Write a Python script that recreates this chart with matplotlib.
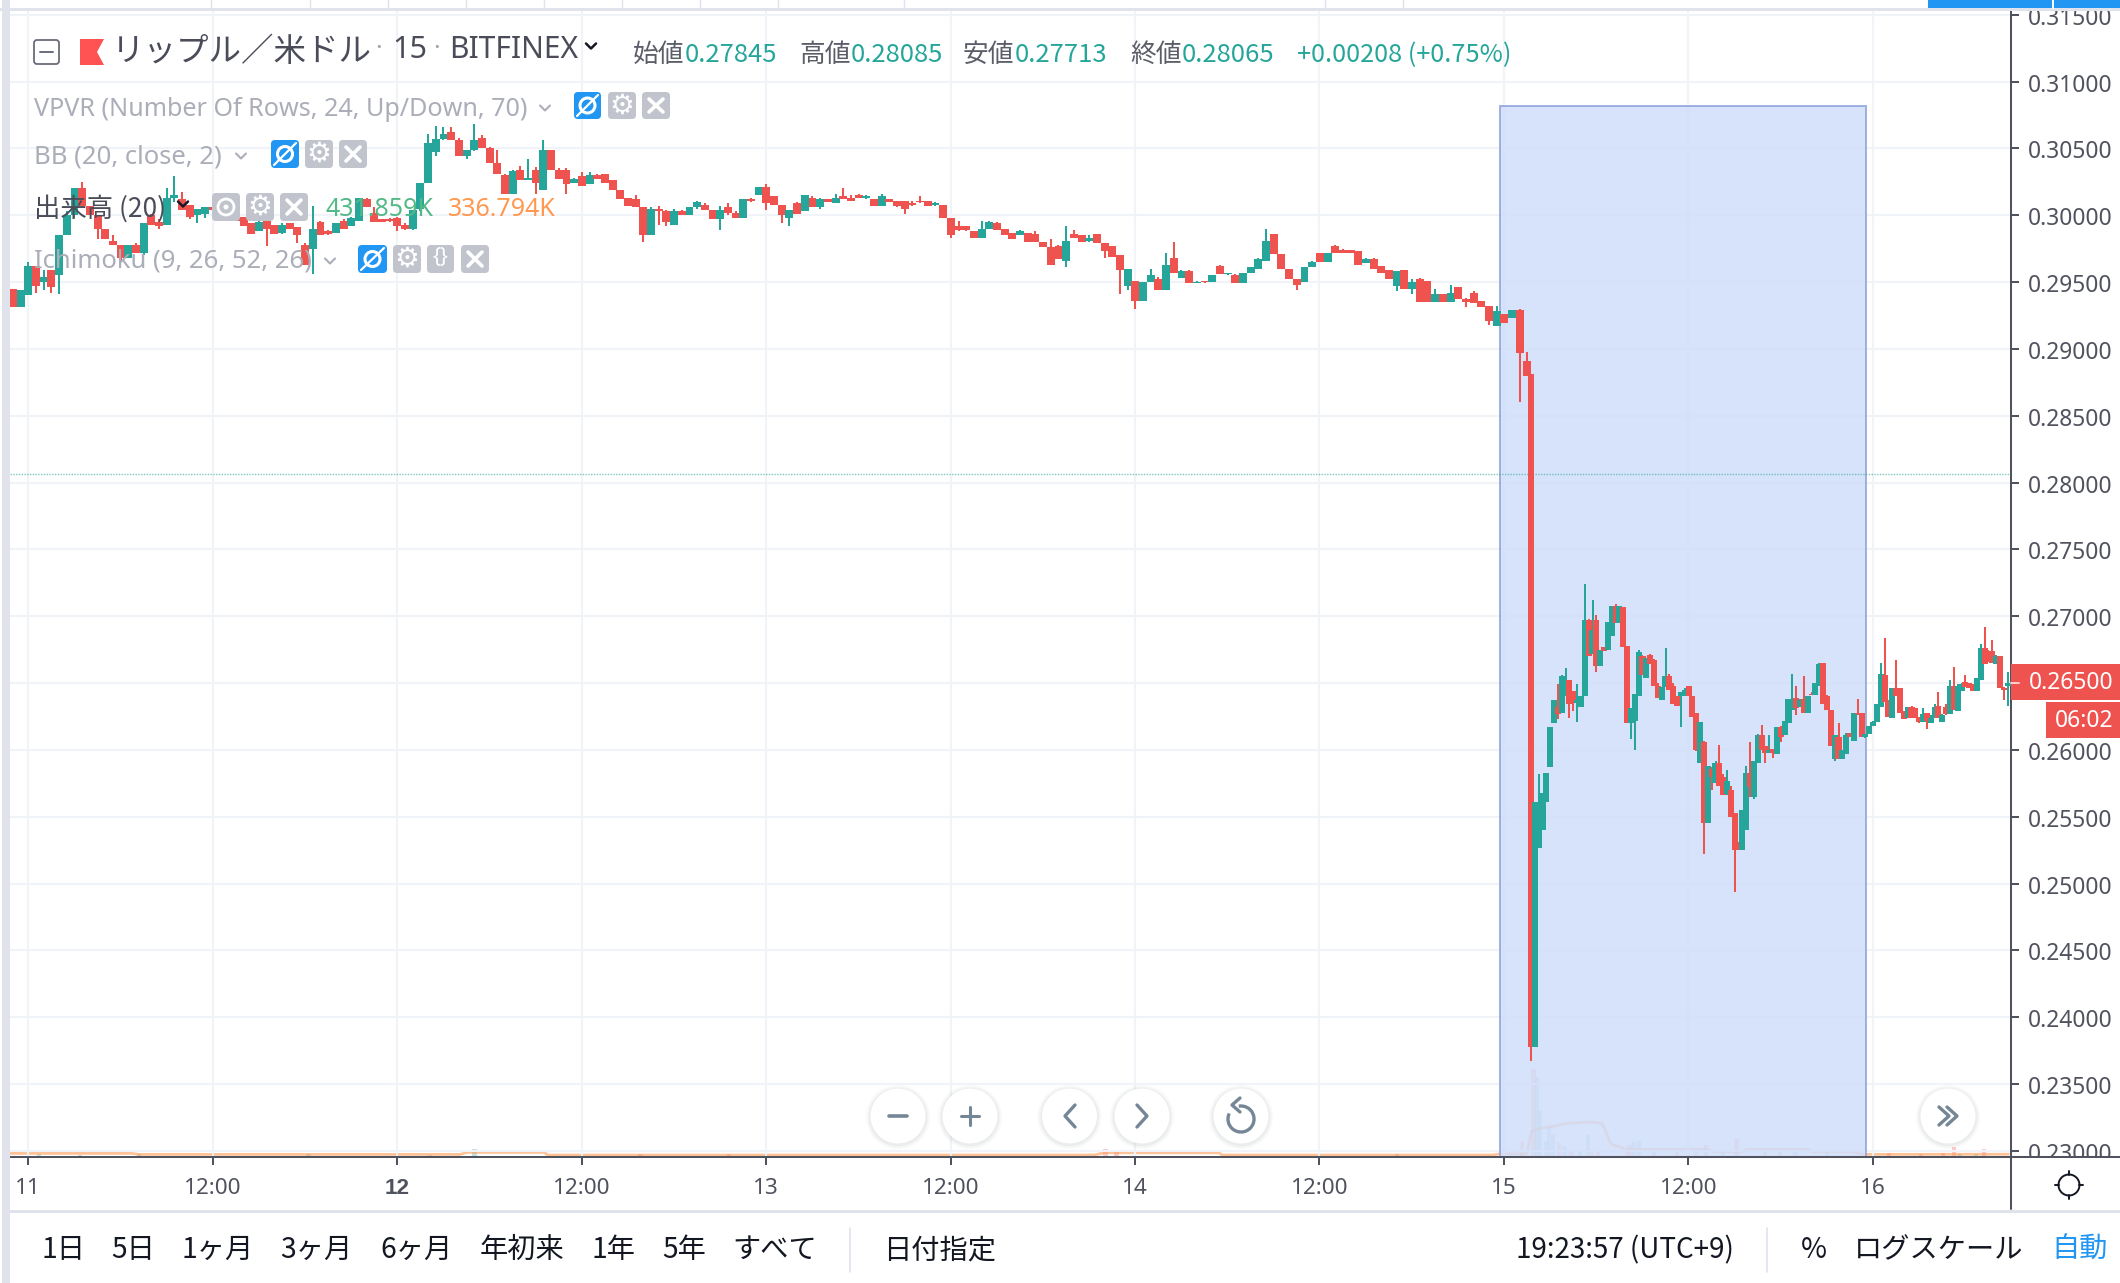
# plot.py
# XRP/USD 15 minute chart, TradingView style, with the crash on the 15th.

import numpy as np
import matplotlib
matplotlib.use("Agg")
import matplotlib.pyplot as plt
from matplotlib.patches import Rectangle, Circle, FancyBboxPatch, Polygon, Arc
from matplotlib.transforms import ScaledTranslation

plt.rcParams['font.family'] = ['Noto Sans', 'Noto Sans CJK JP', 'DejaVu Sans']

# ── Candles before the crash (price x 10000) ──────────────────────────────────
pre_open = [
    2945, 2931, 2940, 2962, 2950, 2959, 2955, 2985, 3000, 3020,
    3007, 3000, 2990, 2981, 2978, 2968, 2978, 2972, 3000, 2995,
    2993, 3013, 3012, 3008, 3000, 3001, 3006, 3005, 3003, 3003,
    2999, 2994, 2988, 2996, 2993, 2987, 2994, 2991, 2978, 2975,
    2995, 2988, 2987, 2996, 2992, 2996, 3012, 3002, 2997, 2997,
    2998, 2993, 2990, 3005, 3024, 3047, 3057, 3062, 3056, 3044,
    3049, 3058, 3050, 3039, 3030, 3016, 3034, 3026, 3034, 3019,
    3049, 3034, 3034, 3024, 3029, 3023, 3030, 3031, 3026, 3019,
    3013, 3012, 3006, 2985, 3005, 3003, 2993, 3003, 3000, 3006,
    3008, 3004, 2997, 3006, 3002, 2998, 3012, 3015, 3021, 3014,
    3008, 2998, 3009, 3003, 3013, 3006, 3012, 3009, 3014, 3013,
    3015, 3013, 3012, 3007, 3012, 3011, 3011, 3009, 3011, 3011,
    3008, 3008, 2998, 2992, 2992, 2988, 2983, 2990, 2994, 2990,
    2987, 2985, 2987, 2986, 2980, 2976, 2977, 2966, 2986, 2985,
    2981, 2986, 2979, 2977, 2970, 2947, 2951, 2936, 2950, 2952,
    2944, 2968, 2953, 2958, 2949, 2951, 2950, 2962, 2956, 2955,
    2949, 2957, 2960, 2966, 2986, 2971, 2960, 2952, 2950, 2961,
    2972, 2965, 2977, 2974, 2974, 2973, 2964, 2967, 2962, 2959,
    2947, 2959, 2945, 2952, 2951, 2935, 2941, 2935, 2946, 2937,
    2942, 2936, 2932, 2917, 2926, 2923, 2929, 2891]
pre_close = [
    2931, 2944, 2962, 2947, 2954, 2946, 2985, 3000, 3020, 3007,
    3000, 2990, 2982, 2978, 2968, 2978, 2972, 2994, 2993, 2992,
    3013, 3015, 3004, 2999, 3005, 3006, 3004, 3003, 3004, 2996,
    2992, 2986, 2995, 2990, 2986, 2993, 2990, 2985, 2963, 2990,
    2985, 2986, 2994, 2990, 2998, 3013, 3006, 2995, 2995, 2996,
    2992, 2990, 3004, 3024, 3054, 3057, 3061, 3056, 3044, 3049,
    3056, 3050, 3039, 3031, 3016, 3033, 3026, 3028, 3024, 3049,
    3034, 3027, 3023, 3027, 3022, 3030, 3027, 3024, 3019, 3012,
    3007, 3006, 2985, 3005, 3003, 2995, 3003, 3000, 3006, 3010,
    3004, 2997, 3004, 3002, 2998, 3012, 3011, 3021, 3009, 3008,
    3000, 3004, 3001, 3015, 3006, 3012, 3010, 3013, 3012, 3011,
    3013, 3014, 3007, 3014, 3010, 3007, 3005, 3008, 3010, 3007,
    3009, 2998, 2985, 2989, 2989, 2983, 2990, 2995, 2989, 2985,
    2982, 2988, 2980, 2980, 2976, 2963, 2967, 2981, 2983, 2980,
    2983, 2979, 2973, 2969, 2959, 2960, 2936, 2950, 2955, 2944,
    2963, 2957, 2958, 2949, 2950, 2950, 2955, 2956, 2957, 2949,
    2957, 2961, 2967, 2981, 2971, 2960, 2952, 2948, 2961, 2965,
    2965, 2972, 2972, 2972, 2972, 2963, 2967, 2960, 2957, 2952,
    2958, 2945, 2950, 2935, 2935, 2941, 2935, 2942, 2937, 2935,
    2934, 2931, 2921, 2928, 2919, 2929, 2897, 2880]
pre_high = [
    2945, 2944, 2965, 2962, 2959, 2959, 2985, 3003, 3020, 3025,
    3007, 3000, 2990, 2985, 2978, 2978, 2979, 2994, 3001, 2997,
    3020, 3029, 3017, 3008, 3005, 3006, 3006, 3006, 3005, 3003,
    2999, 2994, 2996, 2996, 2993, 2994, 2994, 2991, 2979, 3007,
    2996, 2989, 2994, 2997, 2999, 3013, 3013, 3006, 2997, 2998,
    2999, 2994, 3004, 3024, 3061, 3067, 3066, 3066, 3058, 3049,
    3068, 3060, 3051, 3049, 3031, 3034, 3037, 3042, 3036, 3056,
    3049, 3035, 3035, 3028, 3032, 3032, 3031, 3031, 3026, 3019,
    3013, 3015, 3006, 3006, 3007, 3004, 3005, 3004, 3006, 3011,
    3009, 3004, 3007, 3009, 3003, 3012, 3013, 3021, 3023, 3014,
    3008, 3004, 3010, 3015, 3014, 3013, 3012, 3016, 3020, 3015,
    3016, 3015, 3012, 3016, 3012, 3011, 3011, 3011, 3014, 3011,
    3010, 3008, 2998, 2996, 2992, 2988, 2996, 2996, 2995, 2990,
    2987, 2989, 2987, 2988, 2980, 2982, 2978, 2992, 2989, 2985,
    2985, 2986, 2979, 2977, 2970, 2960, 2951, 2950, 2960, 2954,
    2972, 2980, 2959, 2959, 2951, 2951, 2955, 2963, 2957, 2956,
    2957, 2961, 2968, 2990, 2986, 2971, 2960, 2952, 2961, 2966,
    2972, 2972, 2978, 2975, 2974, 2973, 2968, 2968, 2962, 2959,
    2958, 2959, 2952, 2953, 2951, 2945, 2941, 2948, 2946, 2938,
    2943, 2936, 2932, 2932, 2926, 2929, 2930, 2898]
pre_low = [
    2931, 2931, 2940, 2942, 2944, 2942, 2941, 2985, 2998, 3007,
    3000, 2982, 2982, 2978, 2966, 2968, 2972, 2970, 2993, 2990,
    2993, 3010, 3004, 2997, 2994, 2998, 3003, 3002, 3002, 2996,
    2992, 2986, 2988, 2977, 2986, 2986, 2990, 2979, 2963, 2956,
    2985, 2985, 2987, 2990, 2992, 2996, 3006, 2995, 2995, 2995,
    2988, 2989, 2989, 3003, 3024, 3044, 3056, 3056, 3044, 3042,
    3048, 3050, 3039, 3031, 3016, 3016, 3026, 3026, 3016, 3019,
    3034, 3027, 3016, 3024, 3022, 3023, 3027, 3024, 3019, 3012,
    3007, 3006, 2980, 2985, 2993, 2992, 2993, 3000, 3000, 3005,
    3004, 2997, 2989, 3000, 2998, 2998, 3010, 3015, 3004, 3008,
    2994, 2992, 3001, 3003, 3006, 3005, 3010, 3009, 3012, 3011,
    3013, 3012, 3007, 3007, 3010, 3006, 3001, 3007, 3009, 3007,
    3007, 2998, 2983, 2988, 2988, 2983, 2983, 2990, 2989, 2985,
    2982, 2985, 2980, 2980, 2976, 2963, 2967, 2961, 2983, 2980,
    2980, 2979, 2968, 2969, 2941, 2944, 2930, 2936, 2950, 2944,
    2944, 2957, 2953, 2949, 2949, 2949, 2950, 2956, 2955, 2949,
    2949, 2957, 2960, 2966, 2971, 2960, 2952, 2944, 2950, 2961,
    2965, 2965, 2972, 2972, 2972, 2963, 2964, 2960, 2957, 2952,
    2943, 2945, 2941, 2935, 2935, 2935, 2935, 2935, 2937, 2931,
    2934, 2931, 2918, 2917, 2919, 2923, 2860, 2880]

# ── Candles from the crash on (price x 10000) ─────────────────────────────────
post_open = [
    2881, 2378, 2527, 2540, 2561, 2587, 2620, 2632, 2628, 2640,
    2652, 2644, 2635, 2632, 2640, 2697, 2672, 2697, 2663, 2677,
    2675, 2685, 2708, 2695, 2707, 2678, 2620, 2622, 2640, 2670,
    2654, 2671, 2667, 2648, 2637, 2647, 2655, 2648, 2640, 2640,
    2640, 2648, 2640, 2628, 2590, 2606, 2545, 2586, 2575, 2590,
    2580, 2567, 2570, 2553, 2530, 2525, 2540, 2583, 2565, 2590,
    2611, 2603, 2598, 2601, 2597, 2617, 2611, 2620, 2630, 2639,
    2632, 2638, 2628, 2642, 2641, 2648, 2665, 2640, 2630, 2593,
    2610, 2593, 2597, 2613, 2607, 2628, 2628, 2610, 2612, 2618,
    2621, 2632, 2656, 2637, 2624, 2646, 2646, 2629, 2624, 2632,
    2631, 2625, 2621, 2628, 2620, 2624, 2633, 2621, 2632, 2627,
    2648, 2629, 2644, 2651, 2650, 2649, 2644, 2652, 2676, 2672,
    2674, 2664, 2670, 2646, 2648]
post_close = [
    2378, 2561, 2547, 2568, 2583, 2617, 2637, 2627, 2655, 2650,
    2634, 2635, 2637, 2640, 2697, 2670, 2690, 2663, 2675, 2674,
    2696, 2708, 2695, 2708, 2677, 2620, 2631, 2642, 2673, 2656,
    2669, 2664, 2648, 2639, 2647, 2655, 2645, 2634, 2633, 2643,
    2645, 2640, 2625, 2600, 2621, 2545, 2588, 2580, 2590, 2573,
    2566, 2577, 2550, 2525, 2525, 2555, 2583, 2572, 2592, 2611,
    2600, 2598, 2600, 2598, 2617, 2610, 2622, 2638, 2638, 2631,
    2637, 2628, 2640, 2641, 2650, 2664, 2634, 2630, 2603, 2611,
    2593, 2600, 2611, 2610, 2628, 2627, 2610, 2612, 2618, 2621,
    2634, 2657, 2636, 2625, 2646, 2640, 2628, 2623, 2632, 2624,
    2625, 2621, 2627, 2622, 2624, 2632, 2624, 2626, 2627, 2648,
    2630, 2648, 2649, 2647, 2646, 2644, 2654, 2676, 2664, 2666,
    2665, 2670, 2646, 2645, 2650]
post_high = [
    2881, 2561, 2582, 2568, 2583, 2617, 2637, 2649, 2656, 2661,
    2652, 2644, 2649, 2640, 2724, 2698, 2712, 2701, 2675, 2677,
    2696, 2708, 2709, 2708, 2707, 2678, 2631, 2642, 2675, 2671,
    2669, 2672, 2668, 2650, 2647, 2676, 2657, 2650, 2640, 2643,
    2646, 2648, 2640, 2628, 2621, 2607, 2588, 2587, 2592, 2604,
    2582, 2585, 2573, 2553, 2531, 2555, 2588, 2606, 2592, 2612,
    2619, 2603, 2611, 2601, 2617, 2618, 2622, 2638, 2657, 2648,
    2638, 2655, 2640, 2643, 2650, 2665, 2665, 2641, 2630, 2611,
    2620, 2600, 2613, 2613, 2628, 2638, 2628, 2612, 2618, 2622,
    2634, 2665, 2684, 2637, 2646, 2667, 2646, 2629, 2632, 2633,
    2631, 2625, 2631, 2628, 2626, 2634, 2643, 2627, 2634, 2652,
    2662, 2649, 2650, 2656, 2650, 2649, 2654, 2679, 2692, 2675,
    2682, 2671, 2670, 2647, 2658]
post_low = [
    2367, 2378, 2527, 2540, 2561, 2587, 2620, 2623, 2628, 2640,
    2624, 2629, 2621, 2632, 2640, 2670, 2672, 2658, 2663, 2674,
    2675, 2685, 2695, 2695, 2677, 2620, 2608, 2600, 2640, 2656,
    2654, 2664, 2648, 2639, 2637, 2647, 2645, 2634, 2633, 2617,
    2640, 2640, 2625, 2599, 2590, 2522, 2545, 2570, 2575, 2573,
    2566, 2566, 2550, 2494, 2525, 2525, 2540, 2565, 2563, 2590,
    2600, 2590, 2598, 2594, 2597, 2606, 2611, 2620, 2630, 2626,
    2632, 2628, 2628, 2641, 2641, 2648, 2634, 2630, 2603, 2592,
    2593, 2593, 2597, 2610, 2607, 2626, 2610, 2609, 2612, 2618,
    2621, 2632, 2636, 2625, 2624, 2640, 2628, 2623, 2624, 2624,
    2624, 2620, 2621, 2616, 2620, 2624, 2624, 2621, 2626, 2627,
    2630, 2629, 2644, 2647, 2646, 2644, 2644, 2652, 2664, 2666,
    2665, 2664, 2646, 2637, 2633]

# ── Volume (thousands), only the bars that stand out of the strip ─────────────
vol_days = [11.03, 11.14, 11.30, 11.76, 12.09, 12.21, 12.66, 12.90, 13.92, 13.95,
            14.71, 15.048, 15.08, 15.09, 15.098, 15.113, 15.122, 15.132, 15.15, 15.164,
            15.183, 15.206, 15.228, 15.239, 15.255, 15.333, 15.34, 15.353, 15.365, 15.406,
            15.468, 15.52, 15.547, 15.593, 15.63, 15.707, 15.748, 15.79, 15.875, 16.043,
            16.13, 16.19, 16.22, 16.235, 16.28, 16.30]
volumes = [15, 12, 15, 15, 10, 40, 15, 15, 40, 25,
           15, 80, 440, 400, 230, 80, 155, 115, 70, 55,
           30, 30, 110, 40, 30, 30, 60, 75, 80, 25,
           30, 30, 60, 20, 90, 35, 30, 30, 25, 20,
           15, 20, 50, 15, 15, 40]
vol_up = [1, 1, 1, 1, 1, 1, 0, 0, 0, 0,
          1, 0, 0, 1, 1, 1, 1, 1, 0, 1,
          0, 1, 1, 0, 0, 0, 0, 1, 1, 1,
          0, 1, 0, 1, 0, 0, 0, 1, 1, 0,
          0, 0, 0, 1, 1, 0]

vol_ma_days = [10.951, 11.282, 11.30, 12.171, 12.19, 12.398, 12.409, 13.889, 13.916, 14.228,
               14.236, 14.97, 14.99, 15.061, 15.075, 15.098, 15.136, 15.173, 15.233, 15.266,
               15.29, 15.332, 15.552, 15.57, 15.645, 15.659, 15.823, 15.837, 15.943, 15.977, 16.366]
vol_ma = [18, 18, 13, 13, 23, 23, 10, 10, 21, 21,
          10, 10, 16, 16, 130, 143, 155, 168, 175, 168,
          65, 38, 38, 26, 26, 38, 38, 26, 26, 13, 14]

# ── Axis labels ───────────────────────────────────────────────────────────────
price_ticks = [0.23, 0.235, 0.24, 0.245, 0.25, 0.255, 0.26, 0.265, 0.27, 0.275, 0.28,
               0.285, 0.29, 0.295, 0.30, 0.305, 0.31, 0.315]
day_ticks = [11, 11.5, 12, 12.5, 13, 13.5, 14, 14.5, 15, 15.5, 16]
day_labels = ["11", "12:00", "12", "12:00", "13", "12:00", "14", "12:00", "15", "12:00", "16"]

range_buttons = ["1日", "5日", "1ヶ月", "3ヶ月", "6ヶ月", "年初来", "1年", "5年", "すべて"]
range_x = [63, 133, 218, 316, 416, 522, 613, 684, 775]

# ── Colours ───────────────────────────────────────────────────────────────────
UP = "#26A69A"
DOWN = "#EF5350"
AXIS = "#50535E"
GRID = "#F0F3F7"
FADED = "#ABAEB8"
DARK = "#4A4D59"
ICON = "#C1C4CD"
BLUE = "#2196F3"
BAND = "#E0E3EB"

W, H = 2120, 1283
Y_TOP, Y_BOTTOM = 8, 1157
X_LEFT, X_RIGHT = 10, 2011

fig = plt.figure(figsize=(W / 100, H / 100), dpi=100, facecolor="white")
rect = [X_LEFT / W, 1 - Y_BOTTOM / H, (X_RIGHT - X_LEFT) / W, (Y_BOTTOM - Y_TOP) / H]
xlim = (10.9512, 16.374)

# ── Volume pane sits under the price pane ─────────────────────────────────────
ax_vol = fig.add_axes(rect, zorder=1)
ax_vol.set_xlim(xlim)
ax_vol.set_ylim(0, 5745)
ax_vol.axis("off")
vol_colors = ["#26A69A" if u else "#EF5350" for u in vol_up]
ax_vol.bar(vol_days, volumes, width=0.0115, color=vol_colors, alpha=0.3, linewidth=0)
ax_vol.plot(vol_ma_days, vol_ma, color="#FF9850", lw=2.0, alpha=0.6)

ax = fig.add_axes(rect, zorder=2)
ax.patch.set_visible(False)
ax.set_xlim(xlim)
ax.set_ylim(0.22955, 0.3155)
ax.grid(True, color=GRID, lw=1.5)
ax.set_axisbelow(True)

# date range drawing, covers the volume but not the candles
ax.add_patch(Rectangle((14.9905, 0.22955), 15.98 - 14.9905, 0.3082 - 0.22955,
                       facecolor="#D0DEFA", edgecolor="#8FA4DB", lw=1.4, alpha=0.85, zorder=1))
ax.axhline(0.28065, color=UP, lw=1.0, ls=(0, (1, 1)), alpha=0.6, zorder=2)


def draw_candles(days, opens, closes, highs, lows, width):
    opens = np.array(opens) / 10000
    closes = np.array(closes) / 10000
    highs = np.array(highs) / 10000
    lows = np.array(lows) / 10000
    colors = [UP if c > o else DOWN for o, c in zip(opens, closes)]
    ax.vlines(days, lows, highs, colors=colors, lw=1.45, zorder=3)
    ax.bar(days, closes - opens, bottom=opens, width=width, color=colors,
           linewidth=0, antialiased=False, zorder=4)


pre_days = 10.9593 + np.arange(len(pre_open)) / 48
post_days = 15.0732 + np.arange(len(post_open)) / 96
draw_candles(pre_days, pre_open, pre_close, pre_high, pre_low, 0.0215)
draw_candles(post_days, post_open, post_close, post_high, post_low, 0.0165)

# ── Axes ──────────────────────────────────────────────────────────────────────
for side in ["top", "left"]:
    ax.spines[side].set_visible(False)
for side in ["right", "bottom"]:
    ax.spines[side].set_color(AXIS)
    ax.spines[side].set_linewidth(1.45)

ax.yaxis.tick_right()
ax.set_yticks(price_ticks)
ax.set_yticklabels([f"{p:.5f}" for p in price_ticks])
ax.set_xticks(day_ticks)
ax.set_xticklabels(day_labels)
ax.tick_params(axis="y", length=5.8, width=1.45, color=AXIS, labelcolor=AXIS, labelsize=16.4, pad=6)
ax.tick_params(axis="x", length=5.8, width=1.45, color=AXIS, labelcolor=AXIS, labelsize=16.2, pad=9.5)
bold_tick = ax.get_xticklabels()[2]
bold_tick.set_fontfamily("Liberation Sans")
bold_tick.set_fontweight("bold")

# nudge the price labels down a pixel
nudge = ScaledTranslation(0, -1 / 100, fig.dpi_scale_trans)
for tick_label in ax.get_yticklabels():
    tick_label.set_transform(tick_label.get_transform() + nudge)

# ── Everything else is screen furniture, drawn in pixel coordinates ───────────
ui = fig.add_axes([0, 0, 1, 1], zorder=10)
ui.set_xlim(0, W)
ui.set_ylim(H, 0)
ui.axis("off")


def box(x0, y0, x1, y1, color, z=5):
    ui.add_patch(Rectangle((x0, y0), x1 - x0, y1 - y0, facecolor=color, edgecolor="none", zorder=z))


def line(xs, ys, color, lw=1.5, z=6):
    ui.plot(xs, ys, color=color, lw=lw, solid_capstyle="round", zorder=z)


def label(x, y, s, color=DARK, size=18, ha="left", **kw):
    ui.text(x, y, s, color=color, fontsize=size, ha=ha, va="center", zorder=7, **kw)


def chevron(x, y, color, lw=1.5, s=5):
    line([x - s, x, x + s], [y - s / 2, y + s / 2, y - s / 2], color, lw)


def rounded(x0, y0, x1, y1, color):
    ui.add_patch(FancyBboxPatch((x0 + 4, y0 + 4), x1 - x0 - 8, y1 - y0 - 8,
                                boxstyle="round,pad=4,rounding_size=4",
                                facecolor=color, edgecolor="none", zorder=5))


def eye_off_icon(x0, y0, x1, y1):
    rounded(x0, y0, x1, y1, BLUE)
    cx, cy = (x0 + x1) / 2, (y0 + y1) / 2
    ui.add_patch(Circle((cx, cy), 7.5, facecolor="none", edgecolor="white", lw=2.2, zorder=6))
    line([x0 + 3, x1 - 3], [y1 - 3, y0 + 3], "white", 1.6)


def gear_icon(x0, y0, x1, y1):
    rounded(x0, y0, x1, y1, ICON)
    ui.text((x0 + x1) / 2, (y0 + y1) / 2, "\u2699", color="white", fontsize=20,
            family="DejaVu Sans", ha="center", va="center", zorder=6)


def close_icon(x0, y0, x1, y1):
    rounded(x0, y0, x1, y1, ICON)
    line([x0 + 7, x1 - 7], [y0 + 7, y1 - 7], "white", 2.6)
    line([x0 + 7, x1 - 7], [y1 - 7, y0 + 7], "white", 2.6)


# top and left page edges
box(0, 0, W, 8, "white", 8)
box(0, 8, W, 10.5, BAND, 8)
box(2, 0, 10, H, BAND, 8)
for sx in [211, 310, 388, 466, 544, 622, 700, 778, 904, 1325, 1403]:
    line([sx, sx], [0, 8], BAND, 1.0, 9)
box(1928, 0, W, 8, BLUE, 9)
line([2053, 2053], [0, 8], "white", 1.4, 10)

# bottom of the price scale, covers the clipped last label
box(2012, 1158, W, 1210, "white", 5)
line([X_LEFT, W], [Y_BOTTOM, Y_BOTTOM], AXIS, 1.45)
line([X_RIGHT, X_RIGHT], [1157, 1209], AXIS, 1.45)
box(10, 1210, W, 1213, BAND, 6)

# header row
jp = ['Noto Sans CJK JP']
ui.add_patch(FancyBboxPatch((36, 42), 21, 20, boxstyle="round,pad=2,rounding_size=3",
                            facecolor="none", edgecolor="#6A6D78", lw=1.3, zorder=6))
line([40, 53], [52, 52], "#6A6D78", 1.4)
ui.add_patch(Polygon([(80, 39), (104, 39), (97, 52), (104, 65), (80, 65)], facecolor="#FF5252",
                     edgecolor="none", zorder=6))
label(112, 52.5, "リップル／米ドル", DARK, 23.4, family=jp)
label(379, 49, "·", "#A0A3AD", 18, ha="center")
label(392, 50, "15", DARK, 22)
label(437, 49, "·", "#A0A3AD", 18, ha="center")
label(449, 50, "BITFINEX", DARK, 21.6)
chevron(591, 46, "#131722", 1.8)

for name, nx, value, vx in [("始値", 633, "0.27845", 685), ("高値", 799, "0.28085", 851),
                            ("安値", 963, "0.27713", 1015), ("終値", 1130, "0.28065", 1182)]:
    label(nx, 55, name, "#5B5E69", 18.5, family=jp)
    label(vx, 55, value, UP, 18.5, family=jp)
label(1297, 55, "+0.00208 (+0.75%)", UP, 18.2, family=jp)

# indicator legend rows
label(34, 109, "VPVR (Number Of Rows, 24, Up/Down, 70)", FADED, 18.1)
chevron(545, 108, FADED)
eye_off_icon(574, 92, 601, 119)
gear_icon(608, 92, 636, 119)
close_icon(642, 92, 670, 119)

label(34, 157, "BB (20, close, 2)", FADED, 18.5)
chevron(241, 156, FADED)
eye_off_icon(271, 140, 299, 168)
gear_icon(305, 140, 333, 168)
close_icon(339, 140, 367, 168)

label(34, 209, "出来高 (20)", DARK, 19, family=jp)
chevron(183, 204, "#131722", 1.8)
rounded(212, 193, 240, 221, ICON)
ui.add_patch(Circle((226, 207), 8, facecolor="none", edgecolor="white", lw=2, zorder=6))
ui.add_patch(Circle((226, 207), 2.5, facecolor="white", edgecolor="none", zorder=6))
gear_icon(246, 193, 274, 221)
close_icon(280, 193, 308, 221)
label(325, 209, "431.859K", "#53B987", 18)
label(448, 209, "336.794K", "#FF9850", 18)

label(34, 261, "Ichimoku (9, 26, 52, 26)", FADED, 18.5)
chevron(330, 261, FADED)
eye_off_icon(358, 245, 387, 273)
gear_icon(393, 245, 421, 273)
rounded(427, 245, 454, 273, ICON)
label(440.5, 258, "{}", "white", 15, ha="center", fontweight="bold")
close_icon(461, 245, 489, 273)

# last price tags on the scale
box(2011, 664, W, 700, DOWN, 5)
label(2113, 683, "0.26500", "white", 16.4, ha="right")
line([2011, 2019], [683, 683], "#FFD0CE", 1.4)
box(2046, 702, W, 738, DOWN, 5)
label(2113, 721, "06:02", "white", 16.4, ha="right")

# floating navigation buttons
for cx in [898, 970, 1069.5, 1142, 1241, 1948]:
    for r, a in [(32, 0.03), (30.5, 0.04), (29, 0.05)]:
        ui.add_patch(Circle((cx, 1117), r, facecolor="#5A6270", edgecolor="none", alpha=a, zorder=5))
    ui.add_patch(Circle((cx, 1116), 27.5, facecolor="white", edgecolor="none", zorder=5))
BTN = "#758696"
line([889, 907], [1116, 1116], BTN, 2.6)
line([961, 979], [1116, 1116], BTN, 2.2)
line([970, 970], [1107, 1125], BTN, 2.2)
line([1075, 1065, 1075], [1105, 1116, 1127], BTN, 2.4)
line([1137, 1147, 1137], [1105, 1116, 1127], BTN, 2.4)
ui.add_patch(Arc((1241, 1119), 26, 26, theta1=-100, theta2=205, edgecolor=BTN, lw=2.4, zorder=6))
line([1240, 1232, 1240], [1098, 1105, 1112], BTN, 2.4)
line([1939, 1949, 1939], [1107, 1116, 1125], BTN, 2.4)
line([1947, 1957, 1947], [1107, 1116, 1125], BTN, 2.4)

# settings gear below the price scale
ui.add_patch(Circle((2069, 1185), 10.5, facecolor="none", edgecolor="#131722", lw=1.4, zorder=6))
for dx, dy in [(0, -1), (0, 1), (-1, 0), (1, 0)]:
    line([2069 + dx * 10, 2069 + dx * 14], [1185 + dy * 10, 1185 + dy * 14], "#131722", 1.4)

# bottom toolbar
for bx, text in zip(range_x, range_buttons):
    label(bx, 1250, text, "#131722", 20.3, ha="center", family=jp)
line([850, 850], [1228, 1272], BAND, 1.2)
label(940, 1250, "日付指定", "#131722", 20.3, ha="center", family=jp)
label(1625, 1250, "19:23:57 (UTC+9)", "#131722", 20, ha="center", family=jp)
line([1767, 1767], [1228, 1272], BAND, 1.2)
label(1814, 1250, "%", "#131722", 20.3, ha="center", family=jp)
label(1939, 1250, "ログスケール", "#131722", 20.3, ha="center", family=jp)
label(2080, 1250, "自動", BLUE, 20.3, ha="center", family=jp)

fig.savefig("out.png", dpi=100, facecolor="white")
